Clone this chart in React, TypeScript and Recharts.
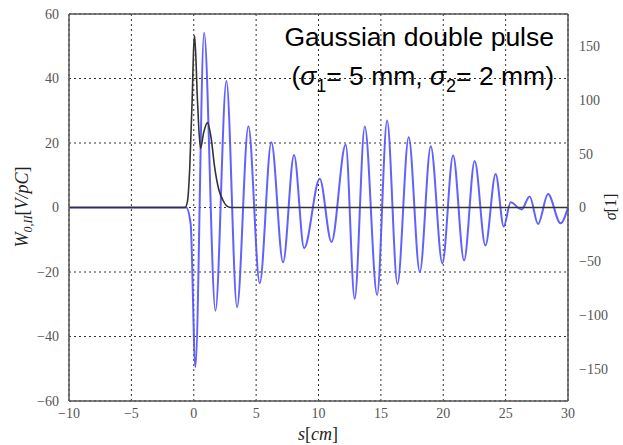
import { LineChart, Line, XAxis, YAxis, CartesianGrid, ReferenceLine } from "recharts";

// wake potential W_0,II [V/pC] (left axis)
const wakeS = [
  -10, -0.6, -0.25, 0.13, 0.83, 1.74, 2.62, 3.47, 4.38, 5.29, 6.22, 7.16, 8.04, 8.85,
  10.1, 11.04, 12.18, 12.9, 13.71, 14.7, 15.5, 16.33, 17.23, 18.12, 19.0, 19.93, 20.79,
  21.67, 22.52, 23.38, 24.2, 24.85, 25.4, 26.27, 26.93, 27.6, 28.4, 29.4, 30,
];
const wakeW = [
  0, 0, -5, -49.5, 54.2, -32, 39.2, -30.9, 25.2, -23.5, 20.2, -17, 16.3, -12.6,
  8.9, -10.7, 19.5, -28.3, 25.1, -27.1, 27, -23.7, 21.8, -20, 19, -17.3, 16.1,
  -16.4, 14.4, -11.8, 10.4, -5.9, 1.6, -0.6, 3.4, -5.1, 4.2, -4.9, 0,
];

// bunch profile sigma [1] (right axis)
const bunchS = [-10, -0.7, -0.5, -0.32, -0.13, 0.0, 0.07, 0.3, 0.54, 0.8, 1.1, 1.4, 1.68, 2.0, 2.35, 2.7, 3.0, 30];
const bunchSigma = [0, 0, 6, 37, 99, 150, 160, 99, 55, 70, 79, 64, 37, 17, 6.5, 1, 0, 0];

const xTicks = [-10, -5, 0, 5, 10, 15, 20, 25, 30];
const leftTicks = [-60, -40, -20, 0, 20, 40, 60];
const rightTicks = [-150, -100, -50, 0, 50, 100, 150];

const wakeData = wakeS.map((s, i) => ({ s, w: wakeW[i] }));
const bunchData = bunchS.map((s, i) => ({ s, sigma: bunchSigma[i] }));

const fmt = (v: number) => String(v).replace("-", "\u2212");
const tickStyle = { fill: "#555", fontSize: 14, fontFamily: "Liberation Serif, serif" };

export default function App() {
  return (
    <div style={{ position: "absolute", left: 0, top: 0, width: 623, height: 445, background: "#fff" }}>
      <LineChart width={623} height={445} margin={{ top: 14, right: 0, bottom: 0, left: 0 }}>
        <CartesianGrid yAxisId="left" stroke="#333" strokeDasharray="2 3" strokeWidth={1} />
        <XAxis
          dataKey="s"
          type="number"
          domain={[-10, 30]}
          ticks={xTicks}
          height={44}
          tickFormatter={fmt}
          tick={tickStyle}
          axisLine={{ stroke: "#555", strokeWidth: 1.5 }}
          tickLine={false}
          tickMargin={1}
          allowDuplicatedCategory={false}
        />
        <YAxis
          yAxisId="left"
          type="number"
          domain={[-60, 60]}
          ticks={leftTicks}
          width={69}
          tickFormatter={fmt}
          tick={tickStyle}
          axisLine={{ stroke: "#555", strokeWidth: 1.5 }}
          tickLine={false}
          tickMargin={4}
        />
        <YAxis
          yAxisId="right"
          orientation="right"
          type="number"
          domain={[-180, 180]}
          ticks={rightTicks}
          width={55}
          tickFormatter={fmt}
          tick={tickStyle}
          axisLine={{ stroke: "#555", strokeWidth: 1.5 }}
          tickLine={false}
          tickMargin={5}
        />
        <ReferenceLine yAxisId="left" y={60} stroke="#555" strokeWidth={1.5} />
        <Line
          yAxisId="left"
          data={wakeData}
          dataKey="w"
          type="monotone"
          stroke="#5050ff"
          strokeOpacity={0.9}
          strokeWidth={2}
          dot={false}
          isAnimationActive={false}
        />
        <Line
          yAxisId="right"
          data={bunchData}
          dataKey="sigma"
          type="monotone"
          stroke="#333"
          strokeWidth={1.6}
          dot={false}
          isAnimationActive={false}
        />
      </LineChart>
      <svg
        width={623}
        height={445}
        style={{ position: "absolute", left: 0, top: 0, pointerEvents: "none" }}
      >
        <text x={554} y={46} textAnchor="end" fontSize={26.5} fontFamily="Liberation Sans, Arial, sans-serif" fill="#000">
          Gaussian double pulse
        </text>
        <text x={554} y={85} textAnchor="end" fontSize={26.5} fontFamily="Liberation Sans, Arial, sans-serif" fill="#000">
          (<tspan fontStyle="italic">σ</tspan>
          <tspan fontSize={18} dy={7}>1</tspan>
          <tspan dy={-7}>= 5 mm, </tspan>
          <tspan fontStyle="italic">σ</tspan>
          <tspan fontSize={18} dy={7}>2</tspan>
          <tspan dy={-7}>= 2 mm)</tspan>
        </text>
        <text
          transform="translate(28,207) rotate(-90)"
          textAnchor="middle"
          fontSize={18}
          fontFamily="Liberation Serif, serif"
          fill="#222"
        >
          <tspan fontStyle="italic">W</tspan>
          <tspan fontSize={12} dy={4} fontStyle="italic">0,II</tspan>
          <tspan dy={-4}>[</tspan>
          <tspan fontStyle="italic">V/pC</tspan>
          <tspan>]</tspan>
        </text>
        <text x={318} y={440} textAnchor="middle" fontSize={18} fontFamily="Liberation Serif, serif" fill="#222">
          <tspan fontStyle="italic">s</tspan>
          <tspan>[</tspan>
          <tspan fontStyle="italic">cm</tspan>
          <tspan>]</tspan>
        </text>
        <text
          transform="translate(616,207) rotate(-90)"
          textAnchor="middle"
          fontSize={16}
          fontFamily="Liberation Serif, serif"
          fill="#222"
        >
          <tspan fontStyle="italic">σ</tspan>
          <tspan>[1]</tspan>
        </text>
      </svg>
    </div>
  );
}
